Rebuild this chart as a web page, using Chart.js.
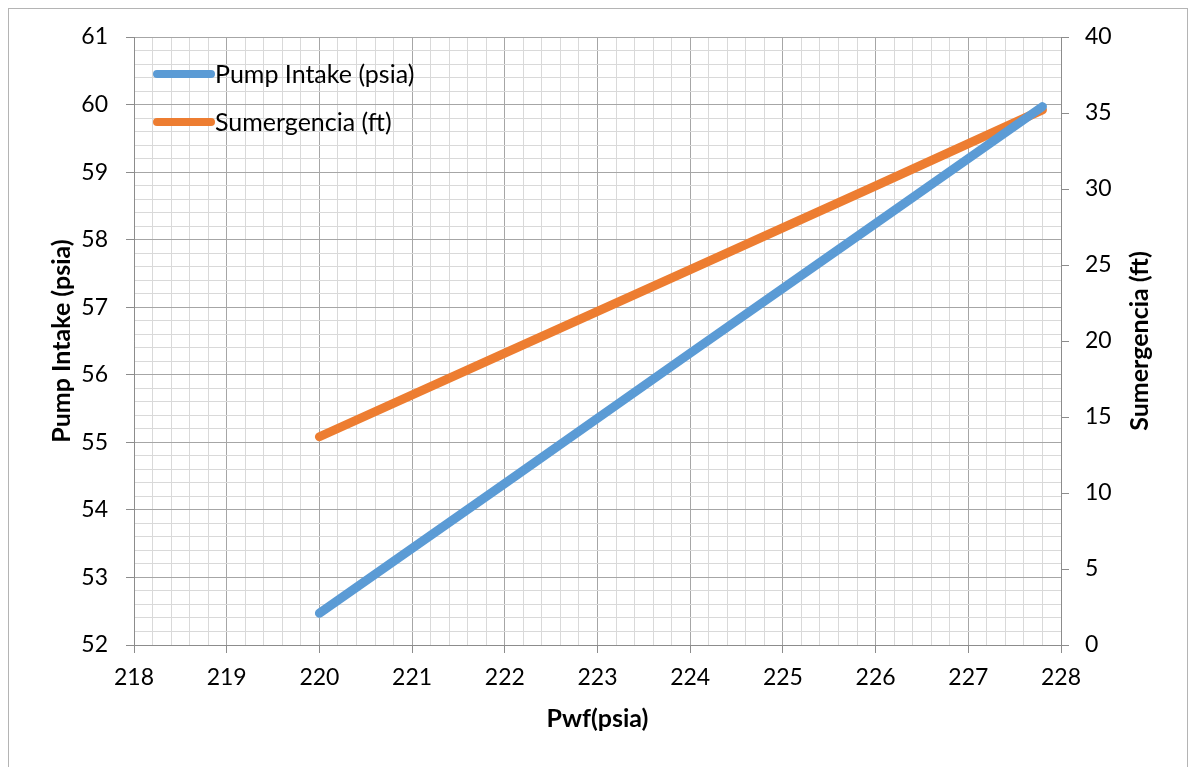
<!DOCTYPE html>
<html>
<head>
<meta charset="utf-8">
<script src="https://cdn.jsdelivr.net/npm/chart.js@4"></script>
<style>
  html, body { margin: 0; padding: 0; background: #fff; }
  #wrap { width: 1197px; height: 767px; position: relative; }
</style>
</head>
<body>
<div id="wrap"><canvas id="chart"></canvas></div>
<script>
// values
const pwf         = [220, 222, 224, 226, 227.8];
const pumpIntake  = [52.47, 54.39, 56.32, 58.24, 59.97];
const sumergencia = [13.7, 19.2, 24.7, 30.2, 35.2];

const seriesNames = ['Pump Intake (psia)', 'Sumergencia (ft)'];
const seriesColors = ['#5B9BD5', '#ED7D31'];

const FONT = 'Lato, "Liberation Sans", sans-serif';
const majorGrid = '#a6a6a6';
const minorGrid = '#d9d9d9';
const axisLine  = '#8c8c8c';

const isMajor = v => Math.abs(v - Math.round(v)) < 1e-6;

// frame + white background
const framePlugin = {
  id: 'frame',
  beforeDraw(chart) {
    const ctx = chart.ctx;
    ctx.save();
    ctx.fillStyle = '#fff';
    ctx.fillRect(0, 0, chart.width, chart.height);
    ctx.strokeStyle = '#b4b4b4';
    ctx.lineWidth = 1;
    ctx.strokeRect(8.5, 8.5, 1179, 775);
    ctx.restore();
  }
};

// legend drawn inside the plot, plus the right axis title (reads bottom-to-top)
const extrasPlugin = {
  id: 'extras',
  afterDraw(chart) {
    const ctx = chart.ctx;
    ctx.save();
    ctx.font = '25px ' + FONT;
    ctx.textBaseline = 'middle';
    ctx.textAlign = 'left';
    seriesNames.forEach((name, i) => {
      const y = 74 + i * 48;
      ctx.strokeStyle = seriesColors[i];
      ctx.lineWidth = 8;
      ctx.lineCap = 'round';
      ctx.beginPath();
      ctx.moveTo(157, y);
      ctx.lineTo(211, y);
      ctx.stroke();
      ctx.fillStyle = '#000';
      ctx.fillText(name, 215, y + 1);
    });

    const a = chart.chartArea;
    ctx.translate(1140, (a.top + a.bottom) / 2);
    ctx.rotate(-Math.PI / 2);
    ctx.textAlign = 'center';
    ctx.font = 'bold 25px ' + FONT;
    ctx.fillText('Sumergencia (ft)', 0, 0);
    ctx.restore();
  }
};

new Chart(document.getElementById('chart'), {
  type: 'line',
  data: {
    datasets: [{
      label: seriesNames[0],
      data: pwf.map((x, i) => ({ x, y: pumpIntake[i] })),
      borderColor: seriesColors[0],
      borderWidth: 9,
      borderCapStyle: 'round',
      pointRadius: 0,
      yAxisID: 'y',
    }, {
      label: seriesNames[1],
      data: pwf.map((x, i) => ({ x, y: sumergencia[i] })),
      borderColor: seriesColors[1],
      borderWidth: 9,
      borderCapStyle: 'round',
      pointRadius: 0,
      yAxisID: 'y2',
    }]
  },
  options: {
    responsive: true,
    maintainAspectRatio: false,
    animation: false,
    layout: { padding: { top: 37, left: 0, right: 0, bottom: 0 } },
    plugins: {
      legend: { display: false },
      tooltip: { enabled: false }
    },
    scales: {
      x: {
        type: 'linear',
        min: 218, max: 228,
        afterFit: s => { s.height = 122; },
        ticks: {
          stepSize: 0.2, autoSkip: false, maxRotation: 0,
          color: '#000', font: { family: FONT, size: 23 }, padding: 11,
          callback: v => isMajor(v) ? String(Math.round(v)) : ''
        },
        grid: {
          color: c => isMajor(c.tick.value) ? majorGrid : minorGrid,
          tickColor: c => isMajor(c.tick.value) ? axisLine : 'rgba(0,0,0,0)',
          tickLength: 8,
        },
        border: { color: axisLine },
        title: {
          display: true, text: 'Pwf(psia)', color: '#000',
          font: { family: FONT, size: 25, weight: 'bold' },
          padding: { top: 0, bottom: 33 }
        }
      },
      y: {
        position: 'left',
        min: 52, max: 61,
        afterFit: s => { s.width = 134; },
        ticks: {
          stepSize: 0.2, autoSkip: false,
          color: '#000', font: { family: FONT, size: 23 }, padding: 18,
          callback: v => isMajor(v) ? String(Math.round(v)) : ''
        },
        grid: {
          color: c => isMajor(c.tick.value) ? majorGrid : minorGrid,
          tickColor: c => isMajor(c.tick.value) ? axisLine : 'rgba(0,0,0,0)',
          tickLength: 8,
        },
        border: { color: axisLine },
        title: {
          display: true, text: 'Pump Intake (psia)', color: '#000',
          font: { family: FONT, size: 25, weight: 'bold' },
          padding: { top: 47, bottom: 0 }
        }
      },
      y2: {
        position: 'right',
        min: 0, max: 40,
        afterFit: s => { s.width = 136; },
        ticks: {
          stepSize: 5, color: '#000', font: { family: FONT, size: 23 }, padding: 16
        },
        grid: { drawOnChartArea: false, tickColor: axisLine, tickLength: 8 },
        border: { color: axisLine }
      }
    }
  },
  plugins: [framePlugin, extrasPlugin]
});
</script>
</body>
</html>
